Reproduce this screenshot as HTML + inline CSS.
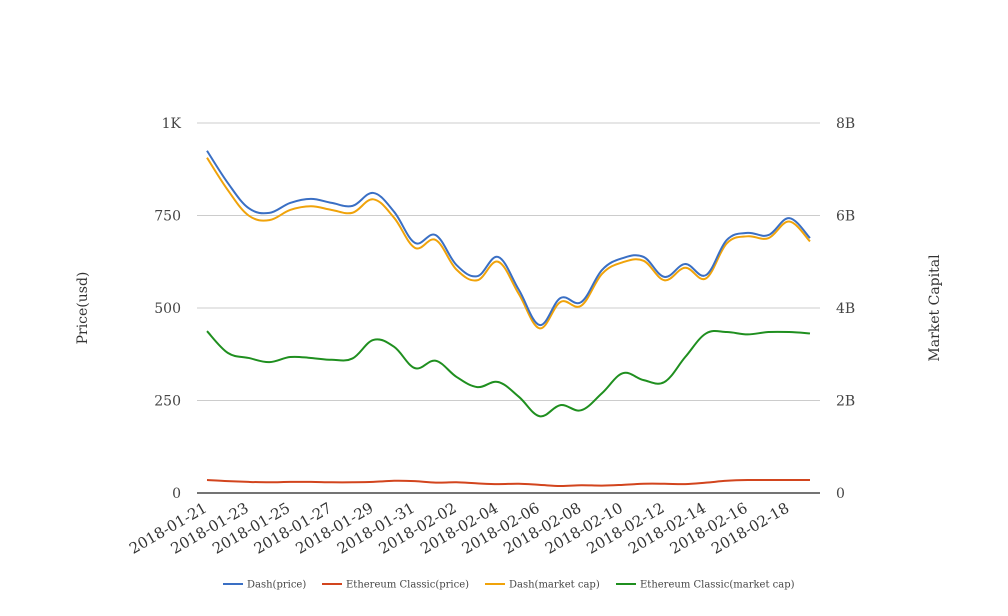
<!DOCTYPE html>
<html><head><meta charset="utf-8"><style>
body{margin:0;background:#fff;}
svg{display:block;font-family:"DejaVu Serif","Liberation Serif",serif;}
</style></head><body>
<svg id="chart" width="1008" height="616"></svg>
<script>
const dates=["2018-01-21","2018-01-22","2018-01-23","2018-01-24","2018-01-25","2018-01-26","2018-01-27","2018-01-28","2018-01-29","2018-01-30","2018-01-31","2018-02-01","2018-02-02","2018-02-03","2018-02-04","2018-02-05","2018-02-06","2018-02-07","2018-02-08","2018-02-09","2018-02-10","2018-02-11","2018-02-12","2018-02-13","2018-02-14","2018-02-15","2018-02-16","2018-02-17","2018-02-18","2018-02-19"];
const dashPrice=[925,838,770,757,784,795,784,776,811,760,676,697,616,586,638,549,454,527,516,603,635,638,584,619,589,684,703,697,743,689];
const etcPrice=[35,32,30,29,30,30,29,29,30,33,32,28,29,26,24,25,22,19,21,20,22,25,25,24,28,33,35,35,35,35];
const dashCap=[7.25,6.55,6.0,5.9,6.12,6.2,6.12,6.06,6.35,5.95,5.3,5.47,4.83,4.6,5.0,4.3,3.56,4.13,4.05,4.74,4.99,5.02,4.6,4.87,4.64,5.4,5.55,5.51,5.87,5.44];
const etcCap=[3.50,3.03,2.92,2.83,2.94,2.92,2.88,2.91,3.31,3.16,2.70,2.86,2.51,2.29,2.40,2.08,1.66,1.90,1.79,2.16,2.59,2.44,2.40,2.94,3.45,3.48,3.43,3.48,3.48,3.45];
const leftTicks=[0,250,500,750,1000];
const leftLabels=["0","250","500","750","1K"];
const rightLabels=["0","2B","4B","6B","8B"];
const NS="http://www.w3.org/2000/svg";
const svg=document.getElementById('chart');
const X0=207,X1=810,Y0=493,Y1=123;
const xs=i=>X0+(X1-X0)*i/(dates.length-1);
const yL=v=>Y0-(Y0-Y1)*v/1000;
const yR=v=>Y0-(Y0-Y1)*v/8;
function mk(t,a){const e=document.createElementNS(NS,t);for(const k in a)e.setAttribute(k,a[k]);svg.appendChild(e);return e;}
leftTicks.forEach((t,i)=>{
  const y=yL(t);
  const g=mk('line',{x1:197,x2:820,y1:y,y2:y,stroke:i==0?'#222':'#ccc','stroke-width':i==0?1.3:1});
  
  
  const l=mk('text',{x:181,y:y+5,'text-anchor':'end','font-size':14,fill:'#444'});l.textContent=leftLabels[i];
  
  
  const r=mk('text',{x:836,y:y+5,'font-size':14,fill:'#444'});r.textContent=rightLabels[i];
  
  
});
dates.forEach((d,i)=>{
  if(i%2)return;
  const x=xs(i);
  const t=mk('text',{x:x+1,y:511,'text-anchor':'end','font-size':15,fill:'#333',transform:`rotate(-30 ${x+1} 511)`});
  t.textContent=d;
  
  
});
const yt=mk('text',{x:87,y:308,'text-anchor':'middle','font-size':14,fill:'#333',transform:'rotate(-90 87 308)'});yt.textContent='Price(usd)';


const yt2=mk('text',{x:939,y:308,'text-anchor':'middle','font-size':14,fill:'#333',transform:'rotate(-90 939 308)'});yt2.textContent='Market Capital';


function path(vals,yf){
  const p=vals.map((v,i)=>[xs(i),yf(v)]);
  let d=`M${p[0][0]},${p[0][1]}`;
  for(let i=0;i<p.length-1;i++){
    const a=p[Math.max(i-1,0)],b=p[i],c=p[i+1],e=p[Math.min(i+2,p.length-1)];
    const t=0.18;
    d+=` C${b[0]+(c[0]-a[0])*t},${b[1]+(c[1]-a[1])*t} ${c[0]-(e[0]-b[0])*t},${c[1]-(e[1]-b[1])*t} ${c[0]},${c[1]}`;
  }
  return d;
}
const series=[[etcCap,yR,'#1f8f1f','etc-market-cap-line'],[etcPrice,yL,'#d2451e','etc-price-line'],[dashCap,yR,'#f0a30a','dash-market-cap-line'],[dashPrice,yL,'#3a6fc4','dash-price-line']];
series.forEach(s=>{
  const p=mk('path',{d:path(s[0],s[1]),fill:'none',stroke:s[2],'stroke-width':2});
  
  
});
const legend=[["Dash(price)",'#3a6fc4',223],["Ethereum Classic(price)",'#d2451e',322],["Dash(market cap)",'#f0a30a',485],["Ethereum Classic(market cap)",'#1f8f1f',616]];
legend.forEach(l=>{
  const ln=mk('line',{x1:l[2],x2:l[2]+20,y1:584,y2:584,stroke:l[1],'stroke-width':2});
  
  
  const t=mk('text',{x:l[2]+24,y:587.5,'font-size':10,fill:'#444'});t.textContent=l[0];
  
  
});
</script>
</body></html>
